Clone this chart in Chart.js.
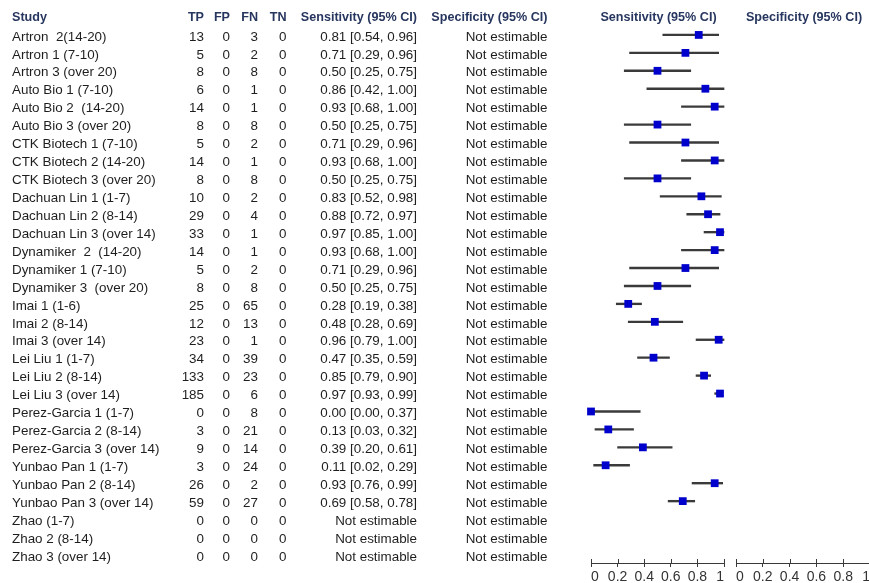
<!DOCTYPE html>
<html>
<head>
<meta charset="utf-8">
<script src="https://cdn.jsdelivr.net/npm/chart.js@4"></script>
<style>
  html, body { margin: 0; padding: 0; background: #fff; overflow: hidden; }
  #wrap { position: relative; width: 869px; height: 583px; }
  canvas { position: absolute; top: 0; }
  #sensChart { left: 0; }
  #specChart { left: 730px; }
</style>
</head>
<body>
<div id="wrap">
  <canvas id="sensChart" width="730" height="583"></canvas>
  <canvas id="specChart" width="145" height="583"></canvas>
</div>
<script>
const studies = [
  'Artron  2(14-20)', 'Artron 1 (7-10)', 'Artron 3 (over 20)',
  'Auto Bio 1 (7-10)', 'Auto Bio 2  (14-20)', 'Auto Bio 3 (over 20)',
  'CTK Biotech 1 (7-10)', 'CTK Biotech 2 (14-20)', 'CTK Biotech 3 (over 20)',
  'Dachuan Lin 1 (1-7)', 'Dachuan Lin 2 (8-14)', 'Dachuan Lin 3 (over 14)',
  'Dynamiker  2  (14-20)', 'Dynamiker 1 (7-10)', 'Dynamiker 3  (over 20)',
  'Imai 1 (1-6)', 'Imai 2 (8-14)', 'Imai 3 (over 14)',
  'Lei Liu 1 (1-7)', 'Lei Liu 2 (8-14)', 'Lei Liu 3 (over 14)',
  'Perez-Garcia 1 (1-7)', 'Perez-Garcia 2 (8-14)', 'Perez-Garcia 3 (over 14)',
  'Yunbao Pan 1 (1-7)', 'Yunbao Pan 2 (8-14)', 'Yunbao Pan 3 (over 14)',
  'Zhao (1-7)', 'Zhao 2 (8-14)', 'Zhao 3 (over 14)'
];
const tp = [13, 5, 8, 6, 14, 8, 5, 14, 8, 10, 29, 33, 14, 5, 8, 25, 12, 23, 34, 133, 185, 0, 3, 9, 3, 26, 59, 0, 0, 0];
const fp = [0, 0, 0, 0, 0, 0, 0, 0, 0, 0, 0, 0, 0, 0, 0, 0, 0, 0, 0, 0, 0, 0, 0, 0, 0, 0, 0, 0, 0, 0];
const fn = [3, 2, 8, 1, 1, 8, 2, 1, 8, 2, 4, 1, 1, 2, 8, 65, 13, 1, 39, 23, 6, 8, 21, 14, 24, 2, 27, 0, 0, 0];
const tn = [0, 0, 0, 0, 0, 0, 0, 0, 0, 0, 0, 0, 0, 0, 0, 0, 0, 0, 0, 0, 0, 0, 0, 0, 0, 0, 0, 0, 0, 0];

const sens   = [0.81, 0.71, 0.50, 0.86, 0.93, 0.50, 0.71, 0.93, 0.50, 0.83, 0.88, 0.97, 0.93, 0.71, 0.50, 0.28, 0.48, 0.96, 0.47, 0.85, 0.97, 0.00, 0.13, 0.39, 0.11, 0.93, 0.69, null, null, null];
const sensLo = [0.54, 0.29, 0.25, 0.42, 0.68, 0.25, 0.29, 0.68, 0.25, 0.52, 0.72, 0.85, 0.68, 0.29, 0.25, 0.19, 0.28, 0.79, 0.35, 0.79, 0.93, 0.00, 0.03, 0.20, 0.02, 0.76, 0.58, null, null, null];
const sensHi = [0.96, 0.96, 0.75, 1.00, 1.00, 0.75, 0.96, 1.00, 0.75, 0.98, 0.97, 1.00, 1.00, 0.96, 0.75, 0.38, 0.69, 1.00, 0.59, 0.90, 0.99, 0.37, 0.32, 0.61, 0.29, 0.99, 0.78, null, null, null];
// specificity cannot be estimated (no FP/TN) for any study
const spec = studies.map(() => null);

const xTicks = [0, 0.2, 0.4, 0.6, 0.8, 1];
const tickLabels = ['0', '0.2', '0.4', '0.6', '0.8', '1'];

const headColor = '#27365f';
const textColor = '#1e1e1e';
const axisColor = '#3a3a3a';
const font = '13.4px "Liberation Sans", Arial, sans-serif';
const boldFont = 'bold 12.6px "Liberation Sans", Arial, sans-serif';

Chart.defaults.font.family = '"Liberation Sans", Arial, sans-serif';
Chart.defaults.font.size = 13.4;

function ciText(v, lo, hi) {
    if (v === null) return 'Not estimable';
    return v.toFixed(2) + ' [' + lo.toFixed(2) + ', ' + hi.toFixed(2) + ']';
}

function xScaleOpts() {
    return {
        type: 'linear',
        min: 0,
        max: 1,
        offset: false,
        afterBuildTicks: s => { s.ticks = xTicks.map(v => ({ value: v })); },
        afterFit: s => { s.height = 20; },
        ticks: {
            color: '#333',
            font: { size: 14 },
            padding: 2,
            align: 'inner',
            maxRotation: 0,
            autoSkip: false,
            callback: (v, i) => tickLabels[i]
        },
        grid: { drawOnChartArea: false, color: axisColor, tickLength: 4, lineWidth: 1, offset: false },
        border: { display: true, color: axisColor, width: 1 }
    };
}

function yScaleOpts() {
    return {
        type: 'linear', display: false, reverse: true, min: -1, max: 29.45,
        offset: false, grid: { offset: false }
    };
}

// tick marks also go up a bit above the axis line
const upTicks = {
    id: 'upTicks',
    afterDraw(chart) {
        const ctx = chart.ctx, x = chart.scales.x, y0 = chart.chartArea.bottom;
        ctx.save();
        ctx.strokeStyle = axisColor;
        ctx.lineWidth = 1;
        x.ticks.forEach(t => {
            const px = Math.round(x.getPixelForValue(t.value)) + 0.5;
            ctx.beginPath();
            ctx.moveTo(px, y0 - 4);
            ctx.lineTo(px, y0);
            ctx.stroke();
        });
        ctx.restore();
    }
};

// study table on the left
const tablePlugin = {
    id: 'table',
    afterDraw(chart) {
        const ctx = chart.ctx, y = chart.scales.y;
        const hy = y.getPixelForValue(-1) + 0.5;
        ctx.save();
        ctx.textBaseline = 'middle';
        ctx.font = boldFont;
        ctx.fillStyle = headColor;
        ctx.textAlign = 'left';
        ctx.fillText('Study', 12, hy);
        ctx.textAlign = 'right';
        ctx.fillText('TP', 204, hy);
        ctx.fillText('FP', 230, hy);
        ctx.fillText('FN', 258, hy);
        ctx.fillText('TN', 286.5, hy);
        ctx.fillText('Sensitivity (95% CI)', 417, hy);
        ctx.fillText('Specificity (95% CI)', 547.5, hy);
        ctx.textAlign = 'center';
        const a = chart.chartArea;
        ctx.fillText('Sensitivity (95% CI)', (a.left + a.right) / 2 + 1, hy);

        ctx.font = font;
        ctx.fillStyle = textColor;
        studies.forEach((name, i) => {
            const py = y.getPixelForValue(i) + 2;
            ctx.textAlign = 'left';
            ctx.fillText(name, 12, py);
            ctx.textAlign = 'right';
            ctx.fillText(String(tp[i]), 204, py);
            ctx.fillText(String(fp[i]), 230, py);
            ctx.fillText(String(fn[i]), 258, py);
            ctx.fillText(String(tn[i]), 286.5, py);
            ctx.fillText(ciText(sens[i], sensLo[i], sensHi[i]), 417, py);
            ctx.fillText(ciText(spec[i]), 547.5, py);
        });
        ctx.restore();
    }
};

const specHeader = {
    id: 'specHeader',
    afterDraw(chart) {
        const ctx = chart.ctx, a = chart.chartArea;
        ctx.save();
        ctx.font = boldFont;
        ctx.fillStyle = headColor;
        ctx.textAlign = 'center';
        ctx.textBaseline = 'middle';
        ctx.fillText('Specificity (95% CI)', (a.left + a.right) / 2 + 1, chart.scales.y.getPixelForValue(-1) + 0.5);
        ctx.restore();
    }
};

const pointData = [];
const ciData = [];
studies.forEach((s, i) => {
    if (sens[i] !== null) {
        pointData.push({ x: sens[i], y: i });
        ciData.push({ x: [sensLo[i], sensHi[i]], y: i });
    }
});

new Chart(document.getElementById('sensChart'), {
    type: 'scatter',
    data: {
        datasets: [
            {
                type: 'scatter',
                data: pointData,
                pointStyle: 'rect',
                pointRadius: 5.5,
                pointBackgroundColor: '#0000cc',
                pointBorderWidth: 0,
                clip: false,
                order: 1
            },
            {
                type: 'bar',
                indexAxis: 'y',
                data: ciData,
                barThickness: 1.7,
                backgroundColor: '#3a3a3a',
                borderWidth: 0,
                borderSkipped: false,
                clip: false,
                order: 2
            }
        ]
    },
    options: {
        responsive: false,
        animation: false,
        layout: { padding: { top: 17, left: 591, right: 6, bottom: 0 } },
        plugins: { legend: { display: false }, tooltip: { enabled: false } },
        scales: { x: xScaleOpts(), y: yScaleOpts() }
    },
    plugins: [tablePlugin, upTicks]
});

new Chart(document.getElementById('specChart'), {
    type: 'scatter',
    data: { datasets: [{ data: spec.filter(v => v !== null).map((v, i) => ({ x: v, y: i })) }] },
    options: {
        responsive: false,
        animation: false,
        layout: { padding: { top: 17, left: 6, right: 5, bottom: 0 } },
        plugins: { legend: { display: false }, tooltip: { enabled: false } },
        scales: { x: xScaleOpts(), y: yScaleOpts() }
    },
    plugins: [specHeader, upTicks]
});
</script>
</body>
</html>
